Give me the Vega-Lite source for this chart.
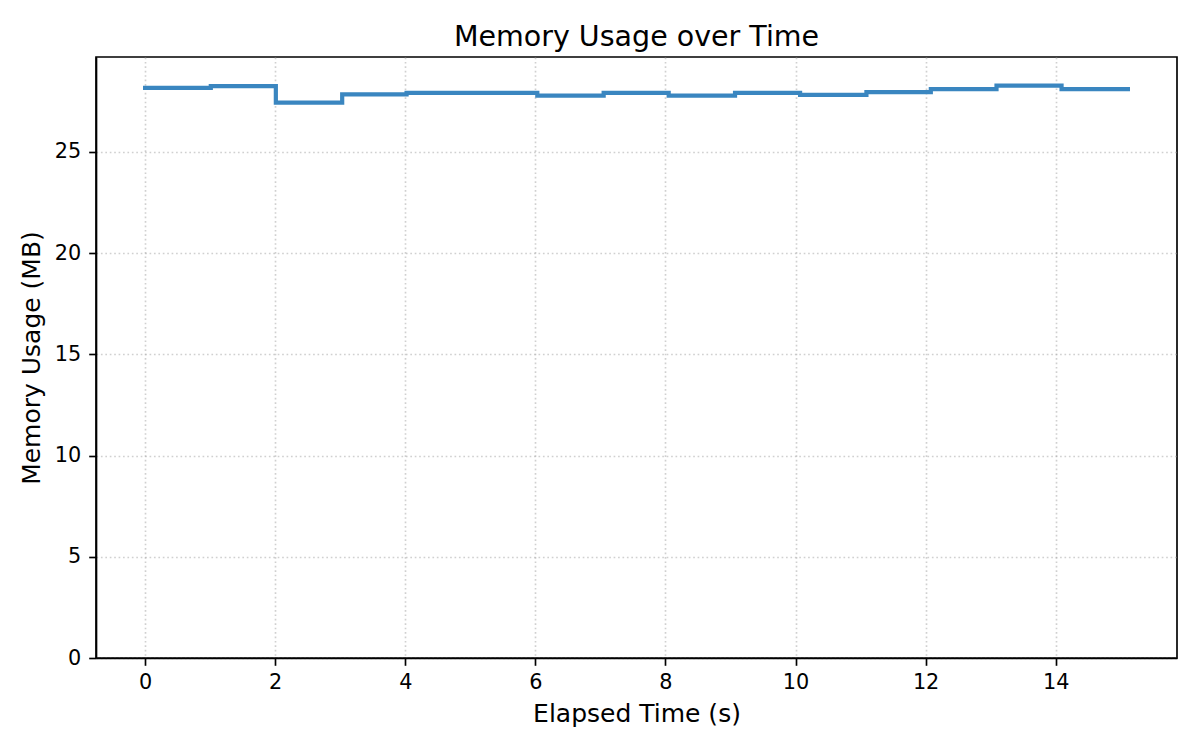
{
  "$schema": "https://vega.github.io/schema/vega-lite/v6.json",
  "autosize": "none",
  "width": 1081,
  "height": 601,
  "padding": {"left": 96, "top": 57, "right": 23, "bottom": 92},
  "background": "white",
  "title": {
    "text": "Memory Usage over Time",
    "font": "DejaVu Sans",
    "fontSize": 28.5,
    "fontWeight": "normal",
    "color": "black",
    "anchor": "middle",
    "offset": 6
  },
  "config": {
    "font": "DejaVu Sans",
    "view": {"stroke": "black", "strokeWidth": 1.67},
    "axis": {
      "domainColor": "black",
      "domainWidth": 1.67,
      "tickColor": "black",
      "tickWidth": 1.67,
      "tickSize": 7.3,
      "labelFont": "DejaVu Sans",
      "labelFontSize": 20.8,
      "labelColor": "black",
      "titleFont": "DejaVu Sans",
      "titleFontSize": 25,
      "titleFontWeight": "normal",
      "titleColor": "black",
      "gridColor": "#b0b0b0",
      "gridOpacity": 0.6,
      "gridWidth": 1.67,
      "gridDash": [1.67, 2.75],
      "labelFlush": false,
      "labelOverlap": false
    }
  },
  "data": {
    "values": [
      {"t": 0.0, "mem": 28.16},
      {"t": 1.01, "mem": 28.25},
      {"t": 2.01, "mem": 27.44},
      {"t": 3.03, "mem": 27.84},
      {"t": 4.02, "mem": 27.92},
      {"t": 5.03, "mem": 27.92},
      {"t": 6.03, "mem": 27.78},
      {"t": 7.05, "mem": 27.92},
      {"t": 8.05, "mem": 27.78},
      {"t": 9.07, "mem": 27.92},
      {"t": 10.07, "mem": 27.82},
      {"t": 11.09, "mem": 27.95},
      {"t": 12.08, "mem": 28.1},
      {"t": 13.09, "mem": 28.28},
      {"t": 14.09, "mem": 28.1},
      {"t": 15.11, "mem": 28.1}
    ]
  },
  "mark": {
    "type": "line",
    "interpolate": "step-after",
    "color": "#3a86c0",
    "strokeWidth": 4.2,
    "strokeCap": "square",
    "clip": true
  },
  "encoding": {
    "x": {
      "field": "t",
      "type": "quantitative",
      "title": "Elapsed Time (s)",
      "scale": {"domain": [-0.755, 15.865], "nice": false, "zero": false},
      "axis": {"values": [0, 2, 4, 6, 8, 10, 12, 14], "labelPadding": 7, "titlePadding": 9, "format": "d"}
    },
    "y": {
      "field": "mem",
      "type": "quantitative",
      "title": "Memory Usage (MB)",
      "scale": {"domain": [0, 29.69], "nice": false},
      "axis": {"values": [0, 5, 10, 15, 20, 25], "labelPadding": 8, "titlePadding": 10, "format": "d"}
    }
  }
}
